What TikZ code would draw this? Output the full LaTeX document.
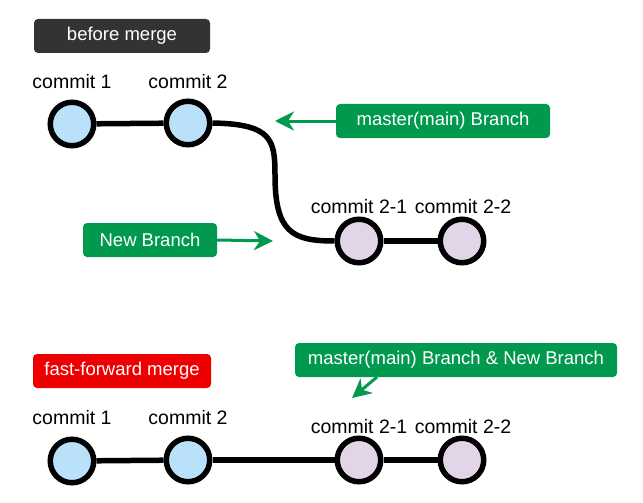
\documentclass[tikz,border=0pt]{standalone}
\usepackage{fontspec}
\setmainfont{Liberation Sans}
\usetikzlibrary{arrows.meta}
\definecolor{cblue}{RGB}{185,225,250}
\definecolor{cpurple}{RGB}{225,213,231}
\definecolor{cgreen}{RGB}{0,153,77}
\definecolor{cdark}{RGB}{51,51,51}
\definecolor{cred}{RGB}{238,0,0}
\tikzset{
  commitA/.style={circle, draw=black, line width=5.5pt, fill=cblue, minimum size=43.5pt, inner sep=0pt},
  commitB/.style={circle, draw=black, line width=5.5pt, fill=cpurple, minimum size=43.5pt, inner sep=0pt},
  clabel/.style={font=\fontsize{19.5}{23}\selectfont, text=black, inner sep=0pt},
  tag/.style={rounded corners=4pt, text=white, font=\fontsize{18.5}{22}\selectfont, minimum height=34pt, inner sep=0pt, draw=none},
  link/.style={line width=5.5pt, black},
  pointer/.style={line width=3pt, cgreen, -{Stealth[length=19pt,width=19pt,inset=6pt]}}
}
\begin{document}
\begin{tikzpicture}[x=1pt,y=-1pt]
\useasboundingbox (0,0) rectangle (643,503);
% top
\node[tag, fill=cdark, minimum width=176pt] (before) at (122,36) {before merge};
\node[commitA] (a1) at (72,124) {};
\node[commitA] (a2) at (188,123) {};
\node[commitB] (a3) at (359,241) {};
\node[commitB] (a4) at (462,241) {};
\node[clabel] (la1) at (72,82) {commit 1};
\node[clabel] (la2) at (188,82) {commit 2};
\node[clabel] (la3) at (359,207) {commit 2-1};
\node[clabel] (la4) at (463,207) {commit 2-2};
\draw[link] (a1) -- (a2);
\draw[link] (a2.east) .. controls (272,124) and (275,140) .. (275,175) .. controls (275,232) and (292,241) .. (a3.west);
\draw[link] (a3) -- (a4);
\node[tag, fill=cgreen, minimum width=214pt] (master) at (443,121) {master(main) Branch};
\coordinate (mtip) at (275,121);
\draw[pointer] (master.west) -- (mtip);
\node[tag, fill=cgreen, minimum width=134pt] (newb) at (150,240) {New Branch};
\coordinate (ntip) at (273,241);
\draw[pointer] (newb.east) -- (ntip);
% bottom
\node[tag, fill=cred, minimum width=178pt] (ff) at (122,371) {fast-forward merge};
\node[tag, fill=cgreen, minimum width=322pt] (both) at (456,360) {master(main) Branch \& New Branch};
\coordinate (bstart) at (377,377);
\coordinate (btip) at (352,398);
\draw[pointer] (bstart) -- (btip);
\node[commitA] (b1) at (72,461) {};
\node[commitA] (b2) at (188,460) {};
\node[commitB] (b3) at (359,460) {};
\node[commitB] (b4) at (462,460) {};
\node[clabel] (lb1) at (72,418) {commit 1};
\node[clabel] (lb2) at (188,418) {commit 2};
\node[clabel] (lb3) at (359,427) {commit 2-1};
\node[clabel] (lb4) at (463,427) {commit 2-2};
\draw[link] (b1) -- (b2);
\draw[link] (b2) -- (b3);
\draw[link] (b3) -- (b4);
\end{tikzpicture}
\end{document}
